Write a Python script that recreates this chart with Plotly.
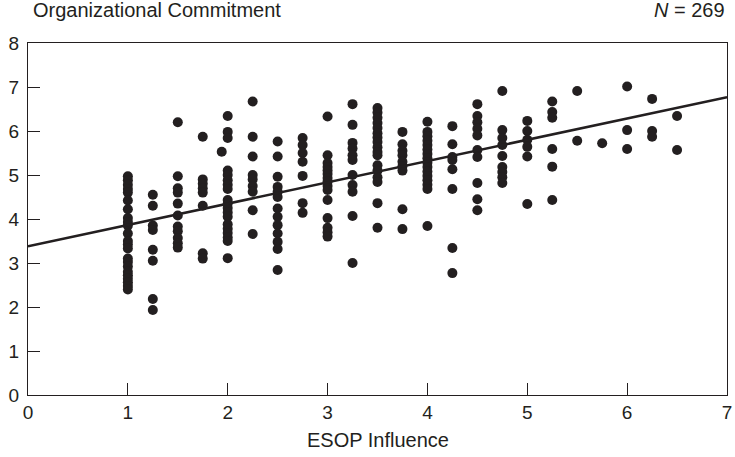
import plotly.graph_objects as go

# ESOP Influence column positions
col_x = [1.0, 1.25, 1.5, 1.75, 1.94, 2.0, 2.25, 2.5, 2.75, 3.0, 3.25, 3.5, 3.75,
         4.0, 4.25, 4.5, 4.75, 5.0, 5.25, 5.5, 5.75, 6.0, 6.25, 6.5]

# Organizational commitment values per column
col_y = [
    [4.97, 4.88, 4.78, 4.68, 4.6, 4.42, 4.22, 4.02, 3.93, 3.85, 3.67, 3.5, 3.42, 3.33,
     3.1, 3.02, 2.92, 2.8, 2.72, 2.64, 2.56, 2.48, 2.4],
    [4.55, 4.3, 3.85, 3.75, 3.3, 3.05, 2.18, 1.93],
    [6.2, 4.97, 4.7, 4.6, 4.35, 4.08, 3.83, 3.72, 3.57, 3.45, 3.35],
    [5.87, 4.9, 4.8, 4.7, 4.6, 4.3, 3.22, 3.1],
    [5.53],
    [6.34, 5.98, 5.84, 5.1, 5.0, 4.88, 4.78, 4.68, 4.43, 4.35, 4.25, 4.15, 4.05,
     3.88, 3.78, 3.68, 3.58, 3.5, 3.11],
    [6.67, 5.87, 5.42, 5.0, 4.9, 4.75, 4.62, 4.2, 3.66],
    [5.76, 5.42, 4.96, 4.73, 4.62, 4.5, 4.24, 4.05, 3.86, 3.67, 3.48, 3.32, 2.84],
    [5.84, 5.68, 5.5, 5.3, 4.98, 4.36, 4.14],
    [6.33, 5.45, 5.27, 5.18, 5.1, 5.02, 4.93, 4.85, 4.75, 4.66, 4.43, 4.02, 3.8,
     3.7, 3.6],
    [6.61, 6.14, 5.73, 5.6, 5.45, 5.34, 5.0, 4.77, 4.62, 4.07, 3.0],
    [6.52, 6.42, 6.3, 6.18, 6.07, 5.95, 5.85, 5.75, 5.63, 5.52, 5.45, 5.22, 5.1,
     4.95, 4.84, 4.36, 3.8],
    [5.98, 5.7, 5.55, 5.45, 5.3, 5.2, 5.1, 4.22, 3.77],
    [6.21, 5.98, 5.88, 5.78, 5.68, 5.58, 5.48, 5.38, 5.28, 5.18, 5.08, 4.98, 4.88,
     4.78, 4.68, 3.84],
    [6.11, 5.7, 5.41, 5.34, 5.13, 4.68, 3.34, 2.77],
    [6.61, 6.34, 6.2, 6.05, 5.9, 5.57, 5.41, 4.82, 4.45, 4.2],
    [6.91, 6.02, 5.84, 5.68, 5.43, 5.18, 5.07, 4.95, 4.82],
    [6.23, 6.0, 5.8, 5.64, 5.42, 4.34],
    [6.67, 6.43, 6.3, 5.59, 5.19, 4.43],
    [6.91, 5.78],
    [5.72],
    [7.01, 6.02, 5.59],
    [6.73, 6.0, 5.87],
    [6.34, 5.57],
]

# Fitted regression line end points
fit_x = [0, 7]
fit_y = [3.38, 6.77]

x_ticks = [0, 1, 2, 3, 4, 5, 6, 7]
y_ticks = [0, 1, 2, 3, 4, 5, 6, 7, 8]

xs, ys = [], []
for cx, vals in zip(col_x, col_y):
    for v in vals:
        xs.append(cx)
        ys.append(v)

ink = "#231f20"
font = "Liberation Sans, Arial, sans-serif"

fig = go.Figure()
fig.add_trace(go.Scatter(x=xs, y=ys, mode="markers",
                         marker=dict(size=10, color=ink, line=dict(width=0)),
                         hoverinfo="skip", cliponaxis=False))
fig.add_trace(go.Scatter(x=fit_x, y=fit_y, mode="lines",
                         line=dict(color=ink, width=2.5), hoverinfo="skip"))

axis_common = dict(showgrid=False, zeroline=False, showline=True, linecolor=ink,
                   linewidth=1.3, mirror=True, ticks="inside", ticklen=12,
                   tickcolor=ink, tickwidth=1.2, automargin=False,
                   tickfont=dict(family=font, size=19, color=ink))

fig.update_layout(
    width=735, height=457,
    margin=dict(l=28, r=8, t=43, b=62),
    paper_bgcolor="white", plot_bgcolor="white",
    showlegend=False,
    xaxis=dict(range=[0, 7], tickvals=x_ticks, **axis_common),
    yaxis=dict(range=[0, 8], tickvals=y_ticks, ticklabelstandoff=4, **axis_common),
    annotations=[
        dict(text="Organizational Commitment", xref="paper", yref="paper",
             x=0.005, y=1.094, xanchor="left", yanchor="middle", showarrow=False,
             font=dict(family=font, size=20, color=ink)),
        dict(text="<i>N</i> = 269", xref="paper", yref="paper",
             x=1.0, y=1.094, xanchor="right", yanchor="middle", showarrow=False,
             font=dict(family=font, size=20, color=ink)),
        dict(text="ESOP Influence", xref="paper", yref="paper",
             x=0.5, y=-0.128, xanchor="center", yanchor="middle", showarrow=False,
             font=dict(family=font, size=20, color=ink)),
    ],
)

fig.write_html("out.html", config={"displayModeBar": False},
               post_script="document.body.style.margin='0';document.body.style.overflow='hidden';")
